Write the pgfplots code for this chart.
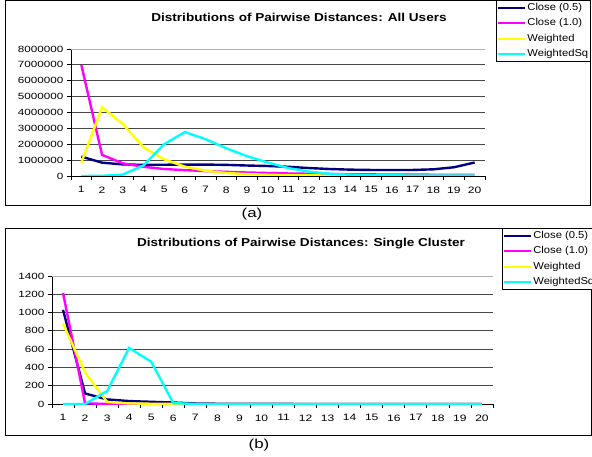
\documentclass[border=0pt]{standalone}
\usepackage{pgfplots}
\pgfplotsset{compat=1.18}
\usepackage{fontspec}
\setmainfont{Liberation Sans}
\newfontfamily\tickfont[FakeStretch=1.3]{Liberation Sans}
\newfontfamily\legfont[FakeStretch=1.12]{Liberation Sans}
\newfontfamily\titfont[FakeStretch=1.18]{Liberation Sans}
\newfontfamily\capfont[FakeStretch=1.3]{Liberation Sans}
\definecolor{cnavy}{RGB}{0,0,128}
\definecolor{cmag}{RGB}{255,0,255}
\definecolor{cyel}{RGB}{255,255,0}
\definecolor{ccyan}{RGB}{0,255,255}

\pgfplotsset{
  excel/.style={
    scale only axis,
    axis lines*=left,
    xmin=0.5, xmax=20.5,
    xtick={1,...,20},
    major x tick style={draw=none},
    minor xtick={0.5,1.5,...,20.5},
    tick align=outside,
    major tick length=4pt,
    minor tick length=4pt,
    ymajorgrids,
    grid style={black!72, line width=0.8pt},
    axis line style={black, line width=0.9pt},
    tick style={black, line width=0.8pt},
    xticklabel style={font=\tickfont\fontsize{9.3}{10}\selectfont, yshift=-3pt},
    yticklabel style={font=\tickfont\fontsize{9}{10}\selectfont},
    /pgf/number format/assume math mode=true,
    /pgf/number format/fixed,
    /pgf/number format/1000 sep={},
    scaled y ticks=false,
    every axis plot/.append style={line width=2.4pt, mark=none},
    legend cell align=left,
    legend image code/.code={\draw[#1, line width=2pt] (0pt,0pt) -- (27pt,0pt);},
  },
  excelleg/.style={
    legend style={draw=black, line width=0.8pt, fill=white,
      font=\legfont\fontsize{10}{11}\selectfont,
      inner xsep=1pt, inner ysep=2pt, row sep=3.7pt,
      nodes={inner sep=1pt, text height=7.3pt, text depth=2.2pt}},
  }
}

\begin{document}
\begin{tikzpicture}
\useasboundingbox (0pt,0pt) rectangle (592pt,-457pt);
\fill[white] (0pt,0pt) rectangle (592pt,-457pt);
% frames
\draw[line width=1pt] (5pt,-1pt) rectangle (590pt,-206pt);
\draw[line width=1pt] (5pt,-229pt) rectangle (591pt,-435pt);

% ---------------- (a) ----------------
\begin{axis}[excel, excelleg,
  at={(71pt,-176pt)}, anchor=south west,
  width=414pt, height=127pt,
  ymin=0, ymax=8000000,
  ytick={0,1000000,2000000,3000000,4000000,5000000,6000000,7000000,8000000},
  legend style={at={(1.0266,1.386)}, anchor=north west},
]
\addplot[cnavy] coordinates {(1,1220000)(2,840000)(3,730000)(4,700000)(5,710000)(6,720000)(7,720000)(8,700000)(9,660000)(10,630000)(11,580000)(12,500000)(13,440000)(14,400000)(15,380000)(16,380000)(17,380000)(18,420000)(19,550000)(20,850000)};
\addlegendentry{Close (0.5)}
\addplot[cmag] coordinates {(1,7000000)(2,1330000)(3,800000)(4,580000)(5,440000)(6,370000)(7,310000)(8,260000)(9,220000)(10,190000)(11,160000)(12,140000)(13,120000)(14,110000)(15,100000)(16,90000)(17,90000)(18,80000)(19,80000)(20,80000)};
\addlegendentry{Close (1.0)}
\addplot[cyel] coordinates {(1,840000)(2,4330000)(3,3280000)(4,1810000)(5,1050000)(6,590000)(7,330000)(8,190000)(9,120000)(10,80000)(11,50000)(12,40000)(13,30000)(14,20000)(15,20000)(16,10000)(17,10000)(18,10000)(19,10000)(20,10000)};
\addlegendentry{Weighted}
\addplot[ccyan] coordinates {(1,0)(2,10000)(3,90000)(4,660000)(5,2000000)(6,2770000)(7,2320000)(8,1750000)(9,1250000)(10,850000)(11,500000)(12,270000)(13,140000)(14,80000)(15,50000)(16,40000)(17,30000)(18,30000)(19,30000)(20,30000)};
\addlegendentry{WeightedSq}
\draw[black!30, line width=0.9pt] (rel axis cs:0,1) -- (rel axis cs:1,1);
\end{axis}

% ---------------- (b) ----------------
\begin{axis}[excel, excelleg,
  at={(52pt,-404pt)}, anchor=south west,
  width=441pt, height=128pt,
  ymin=0, ymax=1400,
  ytick={0,200,...,1400},
  legend style={at={(1.0204,1.375)}, anchor=north west},
]
\addplot[cnavy] coordinates {(1,1030)(2,115)(3,50)(4,32)(5,24)(6,16)(7,6)(8,3)(9,2)(10,1)(11,1)(12,0)(13,0)(14,0)(15,0)(16,0)(17,0)(18,0)(19,0)(20,0)};
\addlegendentry{Close (0.5)}
\addplot[cmag] coordinates {(1,1215)(2,8)(3,0)(4,0)(5,0)(6,0)(7,0)(8,0)(9,0)(10,0)(11,0)(12,0)(13,0)(14,0)(15,0)(16,0)(17,0)(18,0)(19,0)(20,0)};
\addlegendentry{Close (1.0)}
\addplot[cyel] coordinates {(1,880)(2,345)(3,22)(4,6)(5,3)(6,1)(7,0)(8,0)(9,0)(10,0)(11,0)(12,0)(13,0)(14,0)(15,0)(16,0)(17,0)(18,0)(19,0)(20,0)};
\addlegendentry{Weighted}
\addplot[ccyan] coordinates {(1,0)(2,0)(3,142)(4,613)(5,462)(6,10)(7,0)(8,0)(9,0)(10,0)(11,0)(12,0)(13,0)(14,0)(15,0)(16,0)(17,0)(18,0)(19,0)(20,0)};
\addlegendentry{WeightedSq}
\draw[black!30, line width=0.9pt] (rel axis cs:0,1) -- (rel axis cs:1,1);
\end{axis}

% titles and captions
\node[font=\titfont\bfseries\fontsize{11.5}{13}\selectfont] at (299pt,-17pt) {Distributions of Pairwise Distances: All Users};
\node[font=\titfont\bfseries\fontsize{11.5}{13}\selectfont] at (301pt,-244pt) {Distributions of Pairwise Distances: Single Cluster};
\node[font=\capfont\fontsize{13}{14}\selectfont] at (252pt,-214pt) {(a)};
\node[font=\capfont\fontsize{13}{14}\selectfont] at (259pt,-445pt) {(b)};
\end{tikzpicture}
\end{document}
